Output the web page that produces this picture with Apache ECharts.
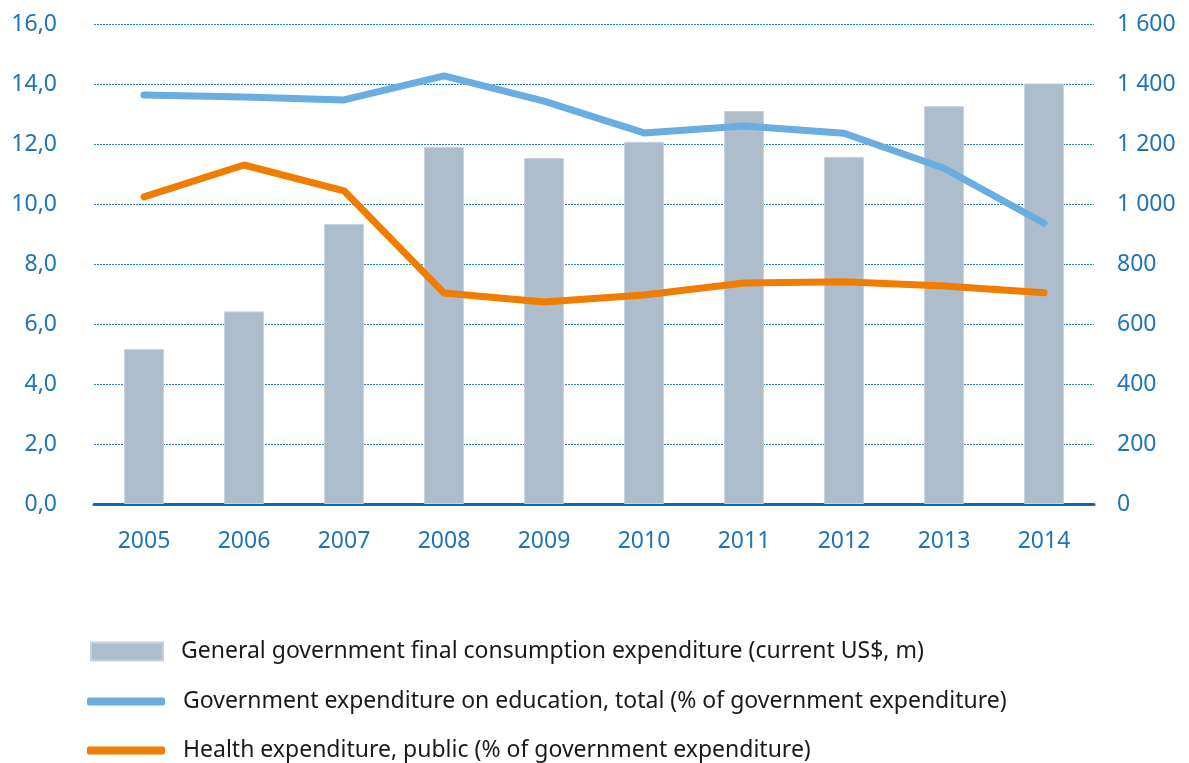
<!DOCTYPE html>
<html><head><meta charset="utf-8">
<script src="https://cdn.jsdelivr.net/npm/echarts@6/dist/echarts.min.js"></script>
<style>html,body{margin:0;padding:0;background:#fff}#c{width:1189px;height:763px}</style>
</head><body><div id="c"></div>
<script>
const years = ['2005','2006','2007','2008','2009','2010','2011','2012','2013','2014'];
const consumption = [516, 642, 933, 1190, 1153, 1207, 1310, 1157, 1326, 1402];
const education = [13.63, 13.57, 13.47, 14.27, 13.43, 12.37, 12.6, 12.36, 11.19, 9.36];
const health = [10.24, 11.3, 10.44, 7.03, 6.73, 6.97, 7.37, 7.41, 7.27, 7.04];
const seriesNames = [
  'General government final consumption expenditure (current US$, m)',
  'Government expenditure on education, total (% of government expenditure)',
  'Health expenditure, public (% of government expenditure)'
];
const FONT = 'Noto Sans';
const axisColor = '#1f73b7';
const chart = echarts.init(document.getElementById('c'));
const legendText = (p) => ({color:'#1a1a1a', fontSize:23, fontFamily:FONT, padding:[0,0,0,p]});
chart.setOption({
  animation:false,
  grid:{left:94, right:95, top:24, bottom:259},
  legend:[
    {data:[seriesNames[0]], left:90, top:640, padding:0, icon:'rect', itemWidth:72, itemHeight:18, textStyle:legendText(13), selectedMode:false},
    {data:[seriesNames[1]], left:87, top:690, padding:0, icon:'roundRect', itemWidth:78, itemHeight:8, textStyle:legendText(13), selectedMode:false},
    {data:[seriesNames[2]], left:87, top:739, padding:0, icon:'roundRect', itemWidth:78, itemHeight:8, textStyle:legendText(13), selectedMode:false}
  ],
  xAxis:{type:'category', data:years,
    axisLine:{lineStyle:{color:'#1565b0', width:3}}, axisTick:{show:false},
    axisLabel:{color:axisColor, fontSize:23, fontFamily:FONT, margin:26}},
  yAxis:[
    {type:'value', min:0, max:16, interval:2, position:'left',
     axisLine:{show:false}, axisTick:{show:false},
     axisLabel:{color:axisColor, fontSize:23, fontFamily:FONT, margin:37,
       formatter:v=>v.toFixed(1).replace('.',',')},
     splitLine:{lineStyle:{color:'#2a80c4', type:[2,1], width:1}}},
    {type:'value', min:0, max:1600, interval:200, position:'right',
     axisLine:{show:false}, axisTick:{show:false},
     axisLabel:{color:axisColor, fontSize:23, fontFamily:FONT, margin:23,
       formatter:v=>String(v).replace(/\B(?=(\d{3})+(?!\d))/g,' ')},
     splitLine:{show:false}}
  ],
  series:[
    {name:seriesNames[0], type:'bar', yAxisIndex:1, data:consumption, barWidth:40,
     itemStyle:{color:'#aebdcc', borderColor:'#c6d2de', borderWidth:1}, z:1},
    {name:seriesNames[1], type:'line', yAxisIndex:0, data:education, symbol:'none',
     lineStyle:{color:'#6aade0', width:7, cap:'round', join:'round'}, itemStyle:{color:'#6aade0'}, z:3},
    {name:seriesNames[2], type:'line', yAxisIndex:0, data:health, symbol:'none',
     lineStyle:{color:'#f07d00', width:7, cap:'round', join:'round'}, itemStyle:{color:'#f07d00'}, z:4}
  ]
});
</script></body></html>
